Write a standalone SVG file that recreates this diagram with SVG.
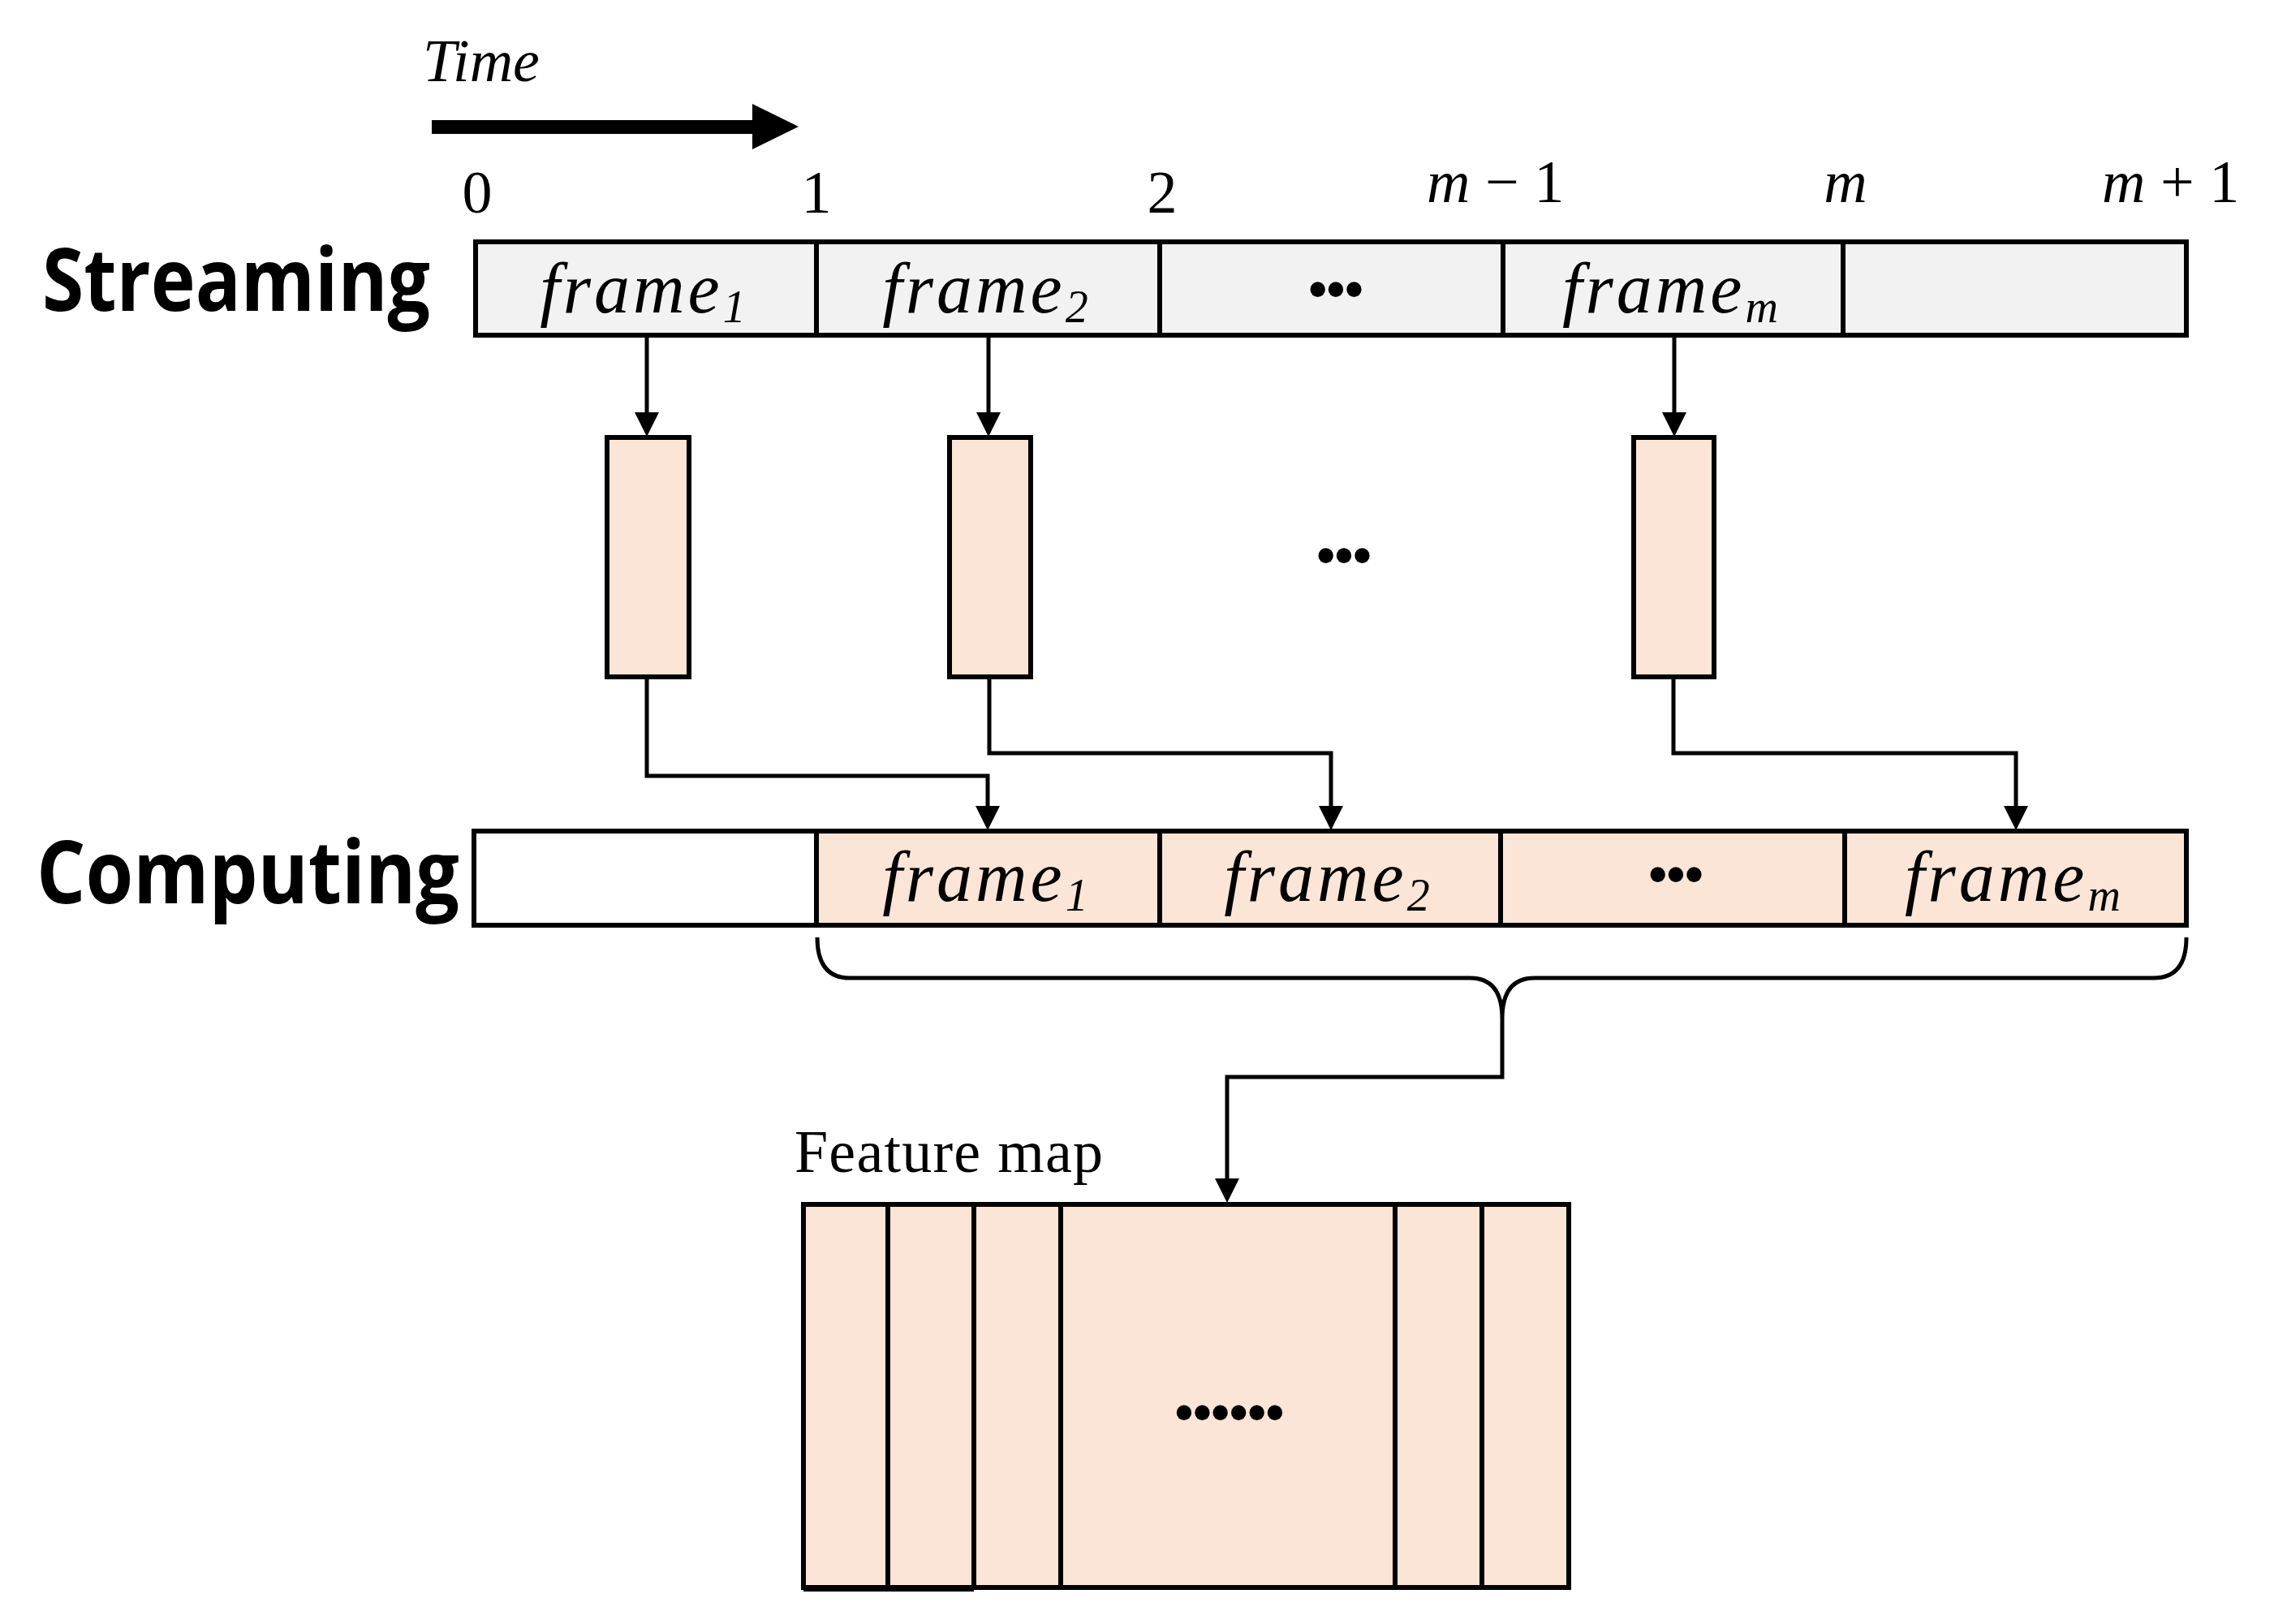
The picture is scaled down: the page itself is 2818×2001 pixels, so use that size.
<svg xmlns="http://www.w3.org/2000/svg" width="2818" height="2001" viewBox="0 0 2818 2001">
<style>
.g{fill:#f2f2f2;stroke:#000;stroke-width:6}
.p{fill:#fbe5d6;stroke:#000;stroke-width:6}
.w{fill:#fff;stroke:#000;stroke-width:6}
.c{fill:none;stroke:#000;stroke-width:5}
.m{font-family:"Liberation Serif",serif;font-style:italic;font-size:88px;letter-spacing:4px;text-anchor:middle}
.n{font-family:"Liberation Serif",serif;font-size:74px}
.s{font-family:"Liberation Serif",serif;font-style:italic;font-size:56px;letter-spacing:0}
.h{font-family:"Open Sans","Liberation Sans",sans-serif;font-weight:700;font-size:108px}
.d{font-family:"Liberation Sans",sans-serif;font-weight:700;font-size:64px;text-anchor:middle}
</style>
<defs>
<marker id="a" markerWidth="6" markerHeight="6" refX="5" refY="3" orient="auto" markerUnits="strokeWidth"><path d="M0,0 L6,3 L0,6 z"/></marker>
</defs>
<g id="time">
<text x="521" y="100" class="n" font-style="italic" font-size="70">Time</text>
<rect x="532" y="148" width="400" height="17"/>
<polygon points="927,128 984,156 927,184"/>
<text x="588" y="262" class="n" text-anchor="middle">0</text>
<text x="1006" y="262" class="n" text-anchor="middle">1</text>
<text x="1432" y="262" class="n" text-anchor="middle">2</text>
<text x="1758" y="249" class="n"><tspan font-style="italic">m</tspan> − 1</text>
<text x="2274" y="249" class="n" font-style="italic" text-anchor="middle">m</text>
<text x="2590" y="249" class="n"><tspan font-style="italic">m</tspan> + 1</text>
</g>
<g id="streaming">
<text x="52" y="383" class="h" textLength="478" lengthAdjust="spacingAndGlyphs">Streaming</text>
<rect x="586" y="298" width="420" height="115" class="g"/>
<rect x="1006" y="298" width="423" height="115" class="g"/>
<rect x="1429" y="298" width="423" height="115" class="g"/>
<rect x="1852" y="298" width="419" height="115" class="g"/>
<rect x="2271" y="298" width="423" height="115" class="g"/>
<text x="792" y="385" class="m">frame<tspan class="s" dy="12">1</tspan></text>
<text x="1214" y="385" class="m">frame<tspan class="s" dy="12">2</tspan></text>
<text x="1646" y="378" class="d">•••</text>
<text x="2058" y="385" class="m">frame<tspan class="s" dy="12">m</tspan></text>
</g>
<g id="proc1"><rect x="748" y="539" width="101" height="295" class="p"/></g>
<g id="proc2"><rect x="1170" y="539" width="100" height="295" class="p"/></g>
<g id="procm"><rect x="2013" y="539" width="99" height="295" class="p"/></g>
<text x="1656" y="706" class="d">•••</text>
<g id="computing">
<text x="45" y="1113" class="h" textLength="521" lengthAdjust="spacingAndGlyphs">Computing</text>
<rect x="584" y="1024" width="422" height="116" class="w"/>
<rect x="1006" y="1024" width="423" height="116" class="p"/>
<rect x="1429" y="1024" width="420" height="116" class="p"/>
<rect x="1849" y="1024" width="424" height="116" class="p"/>
<rect x="2273" y="1024" width="421" height="116" class="p"/>
<text x="1214" y="1110" class="m">frame<tspan class="s" dy="12">1</tspan></text>
<text x="1635" y="1110" class="m">frame<tspan class="s" dy="12">2</tspan></text>
<text x="2065" y="1099" class="d">•••</text>
<text x="2480" y="1110" class="m">frame<tspan class="s" dy="12">m</tspan></text>
</g>
<g id="featuremap">
<text x="979" y="1444" class="n" textLength="380">Feature map</text>
<rect x="990" y="1484" width="943" height="472" class="p"/>
<path d="M1094,1484 V1958 M1200,1484 V1956 M1307,1484 V1956 M1719,1484 V1956 M1826,1484 V1956 M990,1958 H1200" class="p" fill="none"/>
<text x="1515" y="1762" class="d" font-size="60">••••••</text>
</g>
<g id="connectors">
<path d="M797,413 V533" class="c" marker-end="url(#a)"/>
<path d="M1218,413 V533" class="c" marker-end="url(#a)"/>
<path d="M2063,413 V533" class="c" marker-end="url(#a)"/>
<path d="M797,834 V956 H1217 V1018" class="c" marker-end="url(#a)"/>
<path d="M1219,834 V928 H1640 V1018" class="c" marker-end="url(#a)"/>
<path d="M2062,834 V928 H2484 V1018" class="c" marker-end="url(#a)"/>
<path d="M1007,1155 Q1007,1205 1047,1205 L1811,1205 Q1851,1205 1851,1255 Q1851,1205 1891,1205 L2654,1205 Q2694,1205 2694,1155" class="c"/>
<path d="M1851,1255 V1327 H1512 V1477" class="c" marker-end="url(#a)"/>
</g>
</svg>
